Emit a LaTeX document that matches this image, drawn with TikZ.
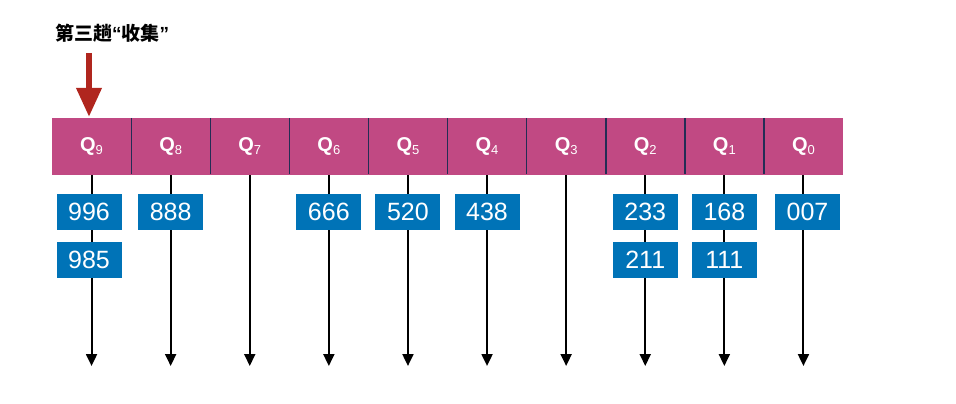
\documentclass[tikz,border=0pt]{standalone}
\usepackage{fontspec}
\setmainfont{Liberation Sans}
\newfontfamily\cjk{Noto Sans CJK SC}
\usetikzlibrary{arrows.meta}
\definecolor{pinkcell}{RGB}{193,73,131}
\definecolor{bluebox}{RGB}{0,115,183}
\definecolor{redarr}{RGB}{176,38,30}
\definecolor{navyline}{RGB}{35,45,85}
\begin{document}
\begin{tikzpicture}[x=1pt,y=-1pt,
  cell/.style={fill=pinkcell, draw=none, minimum width=79.1pt, minimum height=57pt, inner sep=0pt,
    text=white, font=\bfseries\fontsize{20}{20}\selectfont},
  num/.style={fill=bluebox, draw=none, minimum width=65pt, minimum height=36pt, inner sep=0pt,
    text=white, font=\fontsize{25}{25}\selectfont},
  flow/.style={line width=2pt, -{Triangle[length=12pt,width=11pt]}},
  divider/.style={line width=1.3pt, navyline},
  pointer/.style={line width=6.5pt, redarr, -{Triangle[length=29pt,width=24pt]}},
  title/.style={font=\bfseries\fontsize{19}{19}\selectfont, anchor=west, inner sep=0pt}]
\useasboundingbox (0,0) rectangle (956,404);
% title and pointer
\node[title] (ttl) at (55,33) {{\cjk\bfseries 第三趟}“{\cjk\bfseries 收集}”};
\coordinate (pa) at (89,53);
\coordinate (pb) at (89,117);
\draw[pointer] (pa) -- (pb);
% cells
\foreach \j in {0,...,9} {
  \pgfmathtruncatemacro\k{9-\j}
  \node[cell] (q\k) at ({52+79.1*(\j+0.5)},146.5)
    {Q\raisebox{-3pt}{\normalfont\fontsize{13}{13}\selectfont\k}};
  \coordinate (e\k) at ({52+79.1*(\j+0.5)},366);
}
% connectors
\foreach \k in {9,...,0} {
  \draw[flow] (q\k.south) -- (e\k);
}
% dividers
\foreach \k in {9,...,1} {
  \draw[divider] (q\k.north east) -- ([yshift=1pt]q\k.south east);
}
% bucket rows
\coordinate (r1) at (0,212);
\coordinate (r2) at (0,259.5);
\node[num] (n996) at ([xshift=-2.5pt]q9 |- r1) {996};
\node[num] (n985) at ([xshift=-2.5pt]q9 |- r2) {985};
\node[num] (n888) at (q8 |- r1) {888};
\node[num] (n666) at (q6 |- r1) {666};
\node[num] (n520) at (q5 |- r1) {520};
\node[num] (n438) at (q4 |- r1) {438};
\node[num] (n233) at (q2 |- r1) {233};
\node[num] (n211) at (q2 |- r2) {211};
\node[num] (n168) at (q1 |- r1) {168};
\node[num] (n111) at (q1 |- r2) {111};
\node[num] (n007) at ([xshift=4pt]q0 |- r1) {007};
\end{tikzpicture}
\end{document}
